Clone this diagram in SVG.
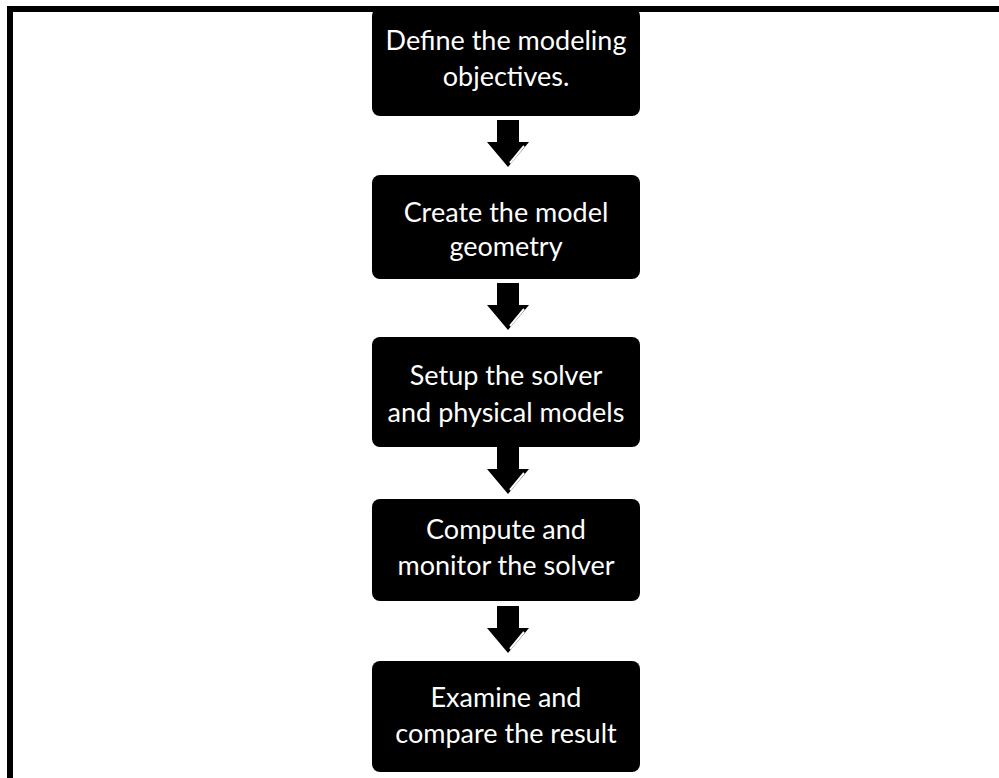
<svg xmlns="http://www.w3.org/2000/svg" width="999" height="778" viewBox="0 0 999 778">
<style>
.box{fill:#000;}
.t{fill:#fff;font-family:Lato,"Liberation Sans",sans-serif;font-size:27px;text-anchor:middle;}
.arr{fill:#000;}
.hl{stroke:#fff;stroke-width:2;fill:none;}
</style>
<defs>
<g id="arrow">
<path class="arr" d="M-11,0 H11 V22 H21 L0,47 L-21,22 H-11 Z"/>
<path class="hl" d="M16,26 L2,43"/>
</g>
</defs>
<rect x="0" y="0" width="999" height="778" fill="#fff"/>
<rect x="7" y="6" width="992" height="6" fill="#000"/>
<rect x="7" y="6" width="6" height="772" fill="#000"/>
<g id="connectors">
<use href="#arrow" x="508" y="120"/>
<use href="#arrow" x="508" y="283"/>
<use href="#arrow" x="508" y="447"/>
<use href="#arrow" x="508" y="606"/>
</g>
<g id="n1"><rect class="box" x="372" y="8" width="268" height="108" rx="8"/>
<text class="t" x="506" y="50">Define the modeling</text><text class="t" x="506" y="86">objectives.</text></g>
<g id="n2"><rect class="box" x="372" y="175" width="268" height="104" rx="8"/>
<text class="t" x="506" y="222">Create the model</text><text class="t" x="506" y="256">geometry</text></g>
<g id="n3"><rect class="box" x="372" y="337" width="268" height="110" rx="8"/>
<text class="t" x="506" y="385">Setup the solver</text><text class="t" x="506" y="422">and physical models</text></g>
<g id="n4"><rect class="box" x="372" y="499" width="268" height="102" rx="8"/>
<text class="t" x="506" y="539">Compute and</text><text class="t" x="506" y="575">monitor the solver</text></g>
<g id="n5"><rect class="box" x="372" y="661" width="268" height="111" rx="8"/>
<text class="t" x="506" y="707">Examine and</text><text class="t" x="506" y="743">compare the result</text></g>
</svg>
